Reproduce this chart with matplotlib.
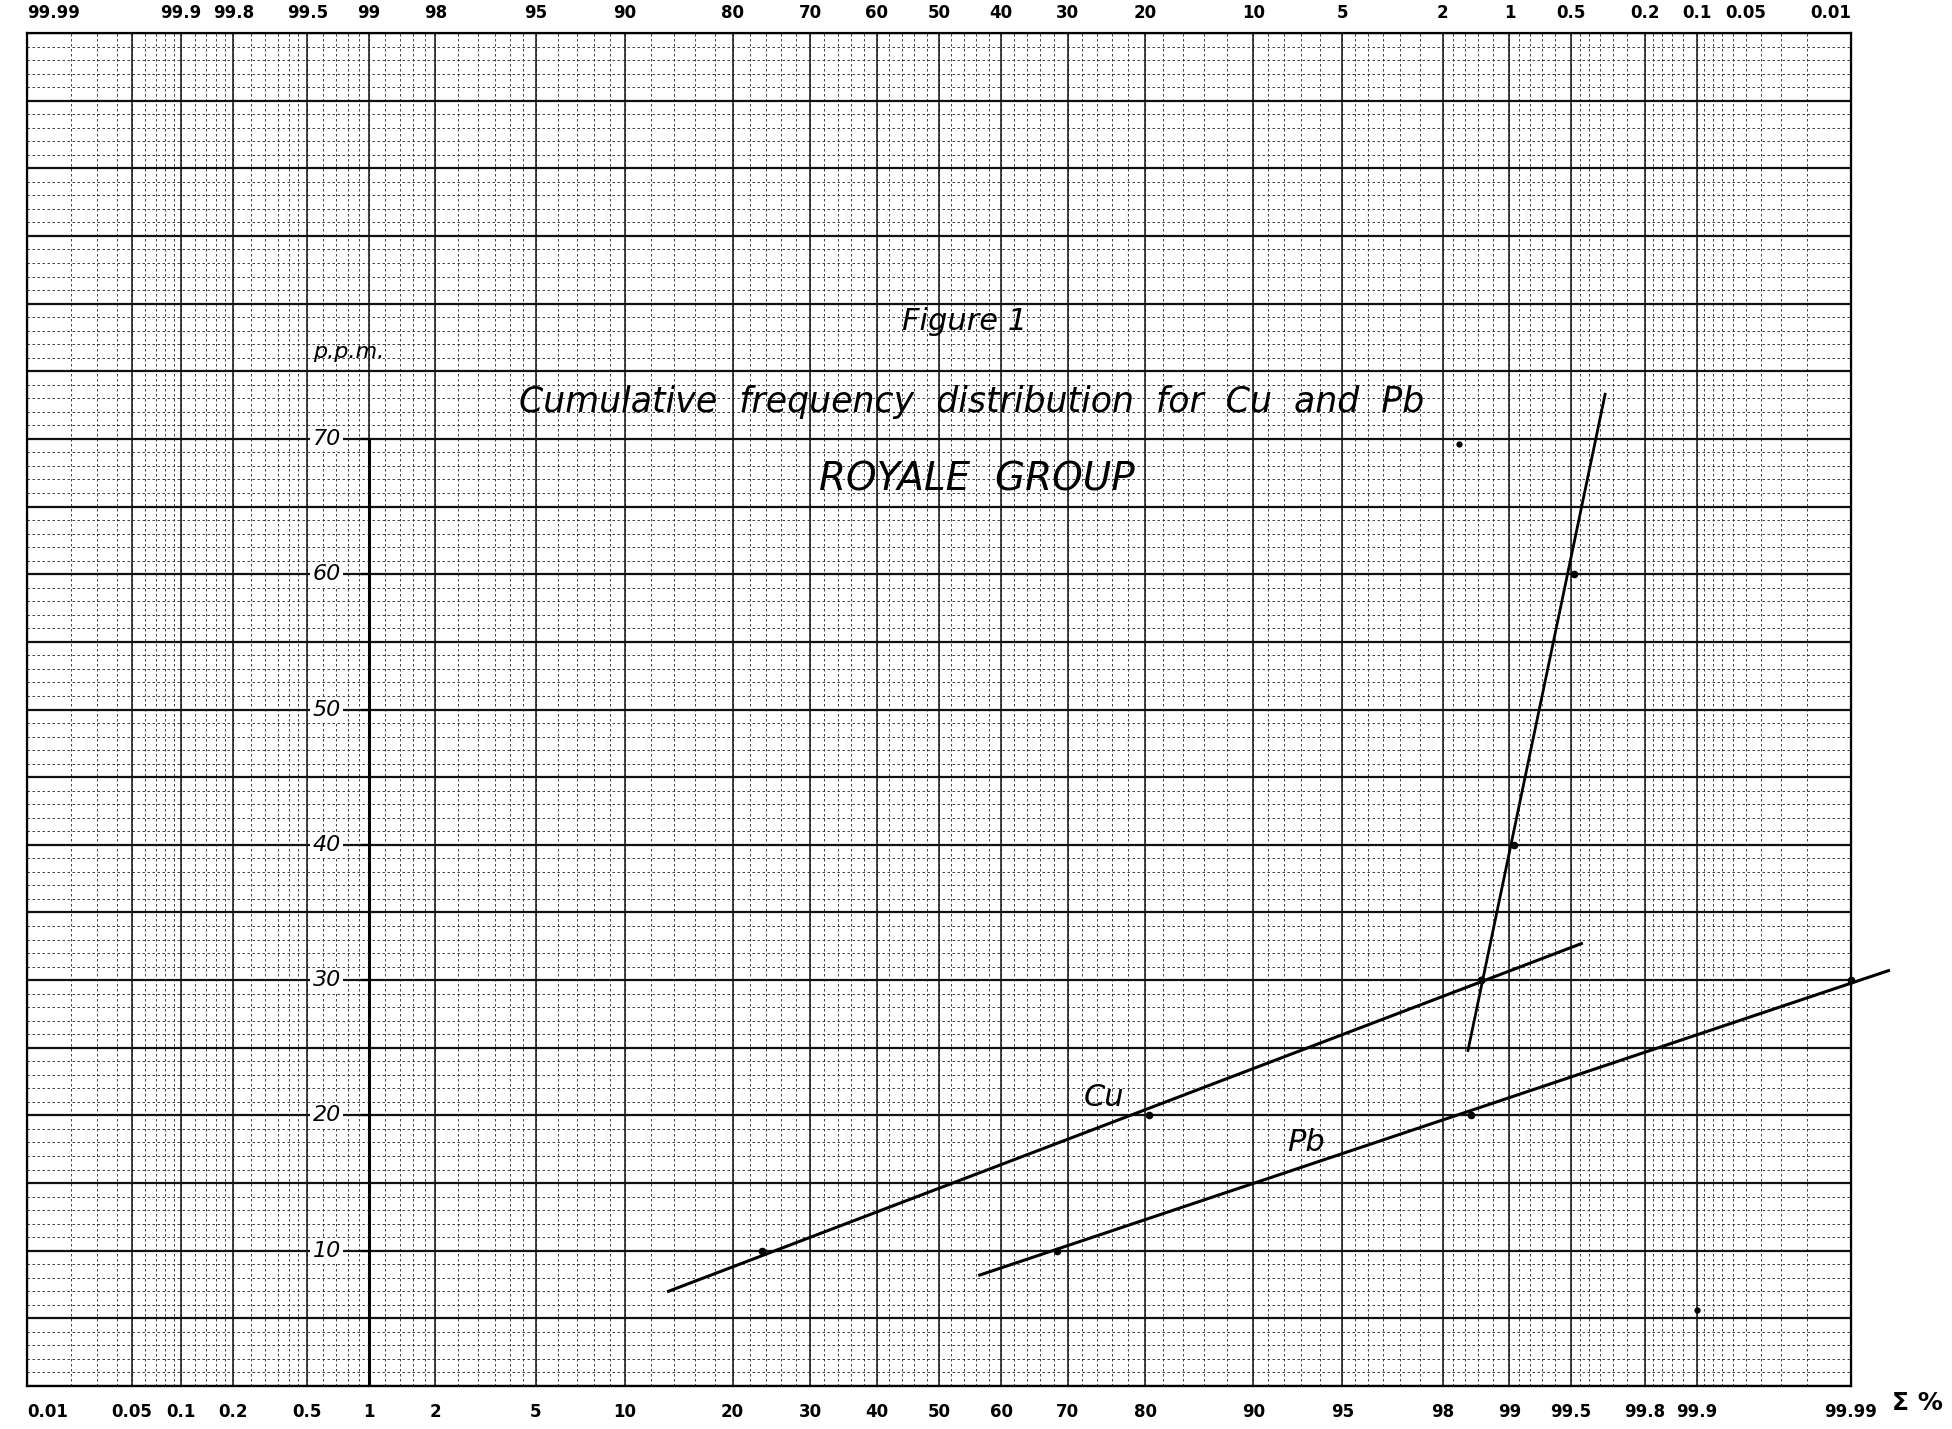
from statistics import NormalDist
import matplotlib
matplotlib.use("Agg")
import matplotlib.pyplot as plt
import numpy as np

# cumulative % (x) and p.p.m. (y)
cu_pct = [23.5, 80.4, 98.65]
cu_ppm = [10, 20, 30]
pb_pct = [68.5, 98.5, 99.99]
pb_ppm = [10, 20, 30]
hi_pct = [98.65, 99.05, 99.52]
hi_ppm = [30, 40, 60]

# fitted lines, drawn by hand on the sheet (end points)
cu_line_pct = [13.5, 99.56]
cu_line_ppm = [7.0, 32.7]
pb_line_pct = [56.6, 99.9946]
pb_line_ppm = [8.2, 30.7]
hi_line_pct = [98.45, 99.67]
hi_line_ppm = [24.8, 73.3]

# odd marks on the sheet
speck_pct = [98.3, 99.9]
speck_ppm = [69.6, 5.6]

bottom_labels = ["0.01", "0.05", "0.1", "0.2", "0.5", "1", "2", "5", "10", "20", "30",
                 "40", "50", "60", "70", "80", "90", "95", "98", "99", "99.5", "99.8",
                 "99.9", "99.99"]
top_labels = ["99.99", "99.9", "99.8", "99.5", "99", "98", "95", "90", "80", "70", "60",
              "50", "40", "30", "20", "10", "5", "2", "1", "0.5", "0.2", "0.1", "0.05",
              "0.01"]
y_labels = [10, 20, 30, 40, 50, 60, 70]

# fine rulings of the probability paper (lower half, mirrored)
half_rulings = [0.02, 0.03, 0.04, 0.05, 0.06, 0.07, 0.08, 0.09, 0.1, 0.12, 0.14, 0.16,
                0.18, 0.2, 0.25, 0.3, 0.35, 0.4, 0.45, 0.5, 0.6, 0.7, 0.8, 0.9, 1, 1.2,
                1.4, 1.6, 1.8, 2, 2.5, 3, 3.5, 4, 4.5, 5, 6, 7, 8, 9, 10, 12, 14, 16, 18,
                20, 22, 24, 26, 28, 30, 32, 34, 36, 38, 40, 42, 44, 46, 48]

nd = NormalDist()


def fwd(p):
    p = np.clip(np.asarray(p, dtype=float) / 100.0, 1e-12, 1 - 1e-12)
    return np.vectorize(nd.inv_cdf, otypes=[float])(p)


def inv(z):
    return np.vectorize(nd.cdf, otypes=[float])(np.asarray(z, dtype=float)) * 100.0


W, H = 1952, 1429
fig = plt.figure(figsize=(W / 100, H / 100), dpi=100)
ax = fig.add_axes([27 / W, 43 / H, 1824 / W, 1353 / H])
ax.set_xscale("function", functions=(fwd, inv))
ax.set_xlim(0.01, 99.99)
ax.set_ylim(0, 100)

# paper grid
rulings = half_rulings + [50] + [round(100 - p, 4) for p in half_rulings]
for p in rulings:
    ax.axvline(p, color="#222222", lw=0.6, ls=(0, (3, 3)), zorder=0)
for lab in bottom_labels:
    ax.axvline(float(lab), color="#111111", lw=1.1, zorder=0)
for v in range(0, 101):
    if v % 5:
        ax.axhline(v, color="#222222", lw=0.6, ls=(0, (3, 3)), zorder=0)
    else:
        ax.axhline(v, color="#111111", lw=1.6, zorder=0)

for s in ax.spines.values():
    s.set_linewidth(1.6)

ax.set_yticks([])
ax.set_xticks([float(l) for l in bottom_labels])
ax.set_xticklabels(bottom_labels)
ax.xaxis.set_minor_locator(matplotlib.ticker.NullLocator())
ax.tick_params(axis="x", length=0, pad=12, labelsize=12)
for t in ax.get_xticklabels():
    t.set_fontweight("bold")
ax.get_xticklabels()[0].set_ha("left")

ax2 = ax.twiny()
ax2.set_xscale("function", functions=(fwd, inv))
ax2.set_xlim(0.01, 99.99)
ax2.set_xticks([100 - float(l) for l in top_labels])
ax2.set_xticklabels(top_labels)
ax2.xaxis.set_minor_locator(matplotlib.ticker.NullLocator())
ax2.tick_params(axis="x", length=0, pad=8, labelsize=12)
for t in ax2.get_xticklabels():
    t.set_fontweight("bold")
ax2.get_xticklabels()[0].set_ha("left")
ax2.get_xticklabels()[-1].set_ha("right")

# p.p.m. axis drawn on the sheet at 1 %
ax.plot([1, 1], [0, 70], color="black", lw=2.2, zorder=3)
for v in y_labels:
    ax.plot([0.93, 1], [v, v], color="black", lw=1.6, zorder=3)
    ax.annotate(str(v), (1, v), xytext=(-20, 0), textcoords="offset points",
                ha="right", va="center", fontsize=16, style="italic",
                bbox=dict(boxstyle="square,pad=0.1", fc="white", ec="none"), zorder=4)
ax.text(0.8, 76.4, "p.p.m.", ha="center", va="center", fontsize=16, style="italic")

# fitted lines and points
ax.plot(cu_line_pct, cu_line_ppm, color="black", lw=2.2, zorder=5)
ax.plot(pb_line_pct, pb_line_ppm, color="black", lw=2.2, zorder=5, clip_on=False)
ax.plot(hi_line_pct, hi_line_ppm, color="black", lw=2.0, zorder=5)
ax.plot(cu_pct, cu_ppm, "o", color="black", ms=4.5, zorder=6)
ax.plot(pb_pct, pb_ppm, "o", color="black", ms=4.5, zorder=6, clip_on=False)
ax.plot(hi_pct, hi_ppm, "o", color="black", ms=4.5, zorder=6)
ax.plot(speck_pct, speck_ppm, "o", color="black", ms=3.5, zorder=6)

ax.text(75, 21.3, "Cu", ha="center", va="center", fontsize=22, style="italic", zorder=6)
ax.text(93.3, 18.0, "Pb", ha="center", va="center", fontsize=22, style="italic", zorder=6)

kw = dict(transform=ax.transAxes, ha="center", va="center", style="italic", zorder=6)
ax.text(0.514, 0.787, "Figure 1", fontsize=22, **kw)
ax.text(0.518, 0.727, "Cumulative  frequency  distribution  for  Cu  and  Pb", fontsize=25, **kw)
ax.text(0.521, 0.670, "ROYALE  GROUP", fontsize=28, **kw)

fig.text(1917 / W, 1 - 1403 / H, "\u03a3 %", ha="center", va="center",
         fontsize=18, fontweight="bold")

fig.savefig("out.png", dpi=100, facecolor="white")
